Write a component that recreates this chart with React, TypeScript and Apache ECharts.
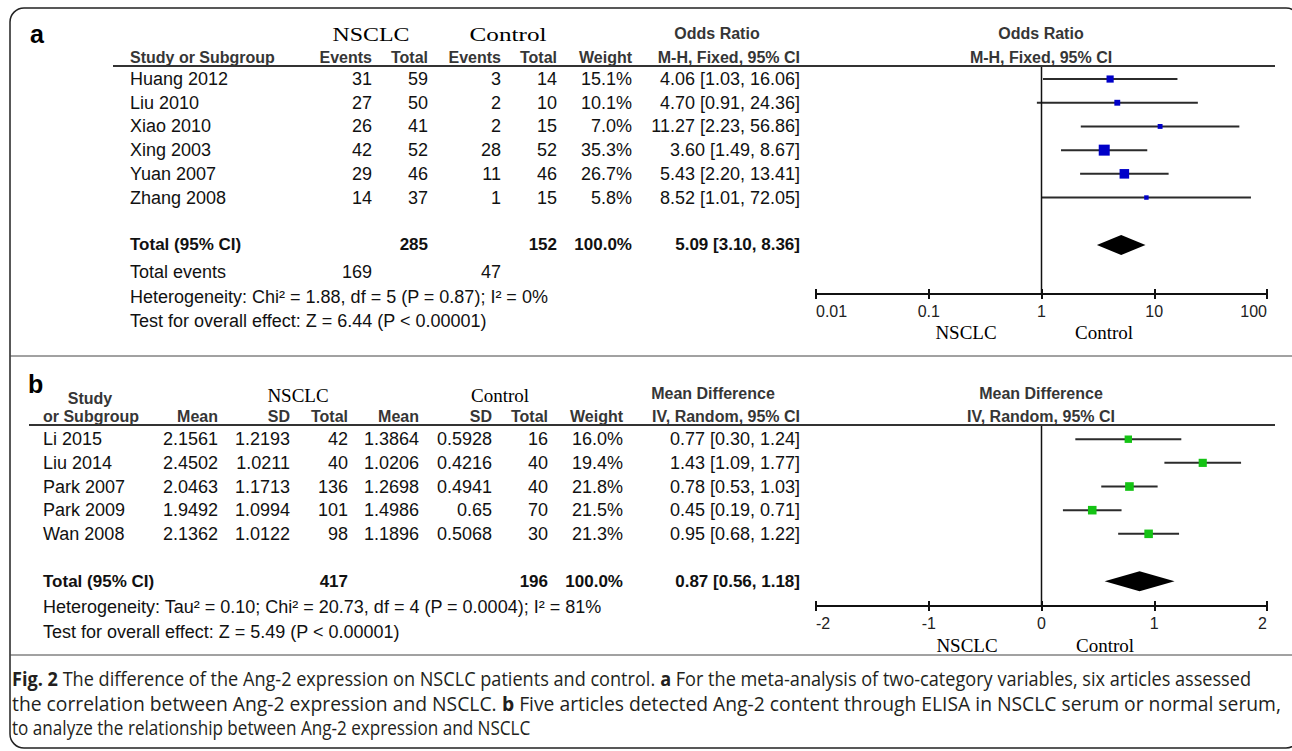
import React, { useEffect, useRef } from 'react';
import * as echarts from 'echarts';

// ---- Panel a: Ang-2 positive cases, NSCLC vs control (odds ratio, M-H fixed) ----
const studiesA = ['Huang 2012', 'Liu 2010', 'Xiao 2010', 'Xing 2003', 'Yuan 2007', 'Zhang 2008'];
const nsclcEventsA = [31, 27, 26, 42, 29, 14];
const nsclcTotalA = [59, 50, 41, 52, 46, 37];
const controlEventsA = [3, 2, 2, 28, 11, 1];
const controlTotalA = [14, 10, 15, 52, 46, 15];
const weightA = [15.1, 10.1, 7.0, 35.3, 26.7, 5.8];
const oddsRatioA = [4.06, 4.7, 11.27, 3.6, 5.43, 8.52];
const ciLowA = [1.03, 0.91, 2.23, 1.49, 2.2, 1.01];
const ciHighA = [16.06, 24.36, 56.86, 8.67, 13.41, 72.05];
const pooledA = [5.09, 3.1, 8.36]; // estimate, lower, upper
const heterogeneityA = 'Heterogeneity: Chi² = 1.88, df = 5 (P = 0.87); I² = 0%';
const overallA = 'Test for overall effect: Z = 6.44 (P < 0.00001)';
const ticksA = [0.01, 0.1, 1, 10, 100];

// ---- Panel b: serum Ang-2 by ELISA (mean difference, IV random) ----
const studiesB = ['Li 2015', 'Liu 2014', 'Park 2007', 'Park 2009', 'Wan 2008'];
const nsclcMeanB = [2.1561, 2.4502, 2.0463, 1.9492, 2.1362];
const nsclcSdB = [1.2193, 1.0211, 1.1713, 1.0994, 1.0122];
const nsclcTotalB = [42, 40, 136, 101, 98];
const controlMeanB = [1.3864, 1.0206, 1.2698, 1.4986, 1.1896];
const controlSdB = [0.5928, 0.4216, 0.4941, 0.65, 0.5068];
const controlTotalB = [16, 40, 40, 70, 30];
const weightB = [16.0, 19.4, 21.8, 21.5, 21.3];
const meanDiffB = [0.77, 1.43, 0.78, 0.45, 0.95];
const ciLowB = [0.3, 1.09, 0.53, 0.19, 0.68];
const ciHighB = [1.24, 1.77, 1.03, 0.71, 1.22];
const pooledB = [0.87, 0.56, 1.18];
const heterogeneityB = 'Heterogeneity: Tau² = 0.10; Chi² = 20.73, df = 4 (P = 0.0004); I² = 81%';
const overallB = 'Test for overall effect: Z = 5.49 (P < 0.00001)';
const ticksB = [-2, -1, 0, 1, 2];

const captionLines: [string, boolean][][] = [
  [
    ['Fig. 2', true],
    [' The difference of the Ang-2 expression on NSCLC patients and control. ', false],
    ['a', true],
    [' For the meta-analysis of two-category variables, six articles assessed', false],
  ],
  [
    ['the correlation between Ang-2 expression and NSCLC. ', false],
    ['b', true],
    [' Five articles detected Ang-2 content through ELISA in NSCLC serum or normal serum,', false],
  ],
  [['to analyze the relationship between Ang-2 expression and NSCLC', false]],
];

// ---- styling ----
const SANS = "'Liberation Sans', Arial, Helvetica, sans-serif";
const SERIF = "'Liberation Serif', 'Times New Roman', serif";
const CAPTION_FONT = "'Open Sans', 'Noto Sans', sans-serif";
const INK = '#111111';
const HEAD = '#363636';
const CI_COLOR = '#2b2b2b';
const BOX_SCALE = 1.85;

// layout
const PLOT_LEFT = 816;
const PLOT_WIDTH = 451;
const A_TOP = 66;
const A_AXIS = 294;
const B_TOP = 425;
const B_AXIS = 606;
const A_YMIN = -0.55;
const A_YMAX = 9.07;
const B_YMIN = -0.6;
const B_YMAX = 7.05;
const rowA = (i: number) => A_TOP + ((i - A_YMIN) / (A_YMAX - A_YMIN)) * (A_AXIS - A_TOP);
const rowB = (i: number) => B_TOP + ((i - B_YMIN) / (B_YMAX - B_YMIN)) * (B_AXIS - B_TOP);
const COL_A = { study: 130, nEv: 372, nTot: 428, cEv: 501, cTot: 557, weight: 632, ci: 800 };
const COL_B = { study: 43, nMean: 218, nSd: 290, nTot: 348, cMean: 419, cSd: 492, cTot: 548, weight: 623, ci: 800 };
const CAPTION_LEFT = 12;
const CAPTION_TOP = 679;
const CAPTION_STEP = 24;
const CAPTION_RIGHTS = [1251, 1281, 531];

let measureCtx: CanvasRenderingContext2D | null = null;
function measure(text: string, size: number, family: string, weight: string = 'normal') {
  if (!measureCtx) measureCtx = document.createElement('canvas').getContext('2d');
  measureCtx!.font = `${weight} ${size}px ${family}`;
  return measureCtx!.measureText(text).width;
}

type TextOpt = {
  align?: 'left' | 'center' | 'right';
  size?: number;
  weight?: string;
  family?: string;
  color?: string;
  scaleX?: number;
};
function label(text: string, x: number, y: number, o: TextOpt = {}) {
  return {
    type: 'text',
    x,
    y,
    scaleX: o.scaleX ?? 1,
    silent: true,
    z: 10,
    style: {
      text,
      fill: o.color ?? INK,
      fontSize: o.size ?? 18,
      fontFamily: o.family ?? SANS,
      fontWeight: o.weight ?? 'normal',
      align: o.align ?? 'left',
      verticalAlign: 'middle',
    },
  };
}
function hline(x1: number, x2: number, y: number, width = 2, color = '#333') {
  return {
    type: 'line',
    silent: true,
    z: 5,
    shape: { x1, y1: y, x2, y2: y },
    style: { stroke: color, lineWidth: width },
  };
}
const sum = (a: number[]) => a.reduce((s, v) => s + v, 0);
const ci = (e: number, l: number, h: number) => `${e.toFixed(2)} [${l.toFixed(2)}, ${h.toFixed(2)}]`;
const pct = (w: number) => `${w.toFixed(1)}%`;

function buildGraphics() {
  const g: any[] = [];
  const head = (t: string, x: number, y: number, align: 'left' | 'center' | 'right' = 'right') =>
    label(t, x, y, { align, size: 16, weight: 'bold', color: HEAD });
  const bold = (t: string, x: number, y: number, align: 'left' | 'right' = 'right') =>
    label(t, x, y, { align, size: 17, weight: 'bold' });

  // outer frame and panel separators
  g.push({
    type: 'rect',
    silent: true,
    z: 1,
    shape: { x: 10, y: 8, width: 1290, height: 740, r: 14 },
    style: { fill: 'none', stroke: '#222', lineWidth: 1.5 },
  });
  g.push(hline(10, 1292, 356, 1, '#444'));
  g.push(hline(10, 1292, 655, 1, '#444'));

  // ---------- panel a ----------
  g.push(label('a', 30, 34, { size: 25, weight: 'bold', color: '#000' }));
  const wideSerif = (t: string) => 77 / measure(t, 19, SERIF);
  g.push(label('NSCLC', 371, 35, { align: 'center', family: SERIF, size: 19, color: '#000', scaleX: wideSerif('NSCLC') }));
  g.push(label('Control', 508, 35, { align: 'center', family: SERIF, size: 19, color: '#000', scaleX: wideSerif('Control') }));
  g.push(head('Odds Ratio', 717, 33, 'center'));
  g.push(head('Odds Ratio', 1041, 33, 'center'));
  const hyA = 57;
  g.push(head('Study or Subgroup', COL_A.study, hyA, 'left'));
  g.push(head('Events', COL_A.nEv, hyA));
  g.push(head('Total', COL_A.nTot, hyA));
  g.push(head('Events', COL_A.cEv, hyA));
  g.push(head('Total', COL_A.cTot, hyA));
  g.push(head('Weight', COL_A.weight, hyA));
  g.push(head('M-H, Fixed, 95% CI', COL_A.ci, hyA));
  g.push(head('M-H, Fixed, 95% CI', 1041, hyA, 'center'));
  g.push(hline(113, 1275, A_TOP));

  studiesA.forEach((s, i) => {
    const y = rowA(i);
    g.push(label(s, COL_A.study, y));
    g.push(label(String(nsclcEventsA[i]), COL_A.nEv, y, { align: 'right' }));
    g.push(label(String(nsclcTotalA[i]), COL_A.nTot, y, { align: 'right' }));
    g.push(label(String(controlEventsA[i]), COL_A.cEv, y, { align: 'right' }));
    g.push(label(String(controlTotalA[i]), COL_A.cTot, y, { align: 'right' }));
    g.push(label(pct(weightA[i]), COL_A.weight, y, { align: 'right' }));
    g.push(label(ci(oddsRatioA[i], ciLowA[i], ciHighA[i]), COL_A.ci, y, { align: 'right' }));
  });
  const totA = rowA(7);
  g.push(bold('Total (95% CI)', COL_A.study, totA, 'left'));
  g.push(bold(String(sum(nsclcTotalA)), COL_A.nTot, totA));
  g.push(bold(String(sum(controlTotalA)), COL_A.cTot, totA));
  g.push(bold(pct(sum(weightA)), COL_A.weight, totA));
  g.push(bold(ci(pooledA[0], pooledA[1], pooledA[2]), COL_A.ci, totA));
  g.push(label('Total events', COL_A.study, 272));
  g.push(label(String(sum(nsclcEventsA)), COL_A.nEv, 272, { align: 'right' }));
  g.push(label(String(sum(controlEventsA)), COL_A.cEv, 272, { align: 'right' }));
  g.push(label(heterogeneityA, COL_A.study, 297));
  g.push(label(overallA, COL_A.study, 321));
  g.push(label('NSCLC', 966, 332, { align: 'center', family: SERIF, size: 19, color: '#000' }));
  g.push(label('Control', 1104, 332, { align: 'center', family: SERIF, size: 19, color: '#000' }));

  // ---------- panel b ----------
  g.push(label('b', 28, 384, { size: 25, weight: 'bold', color: '#000' }));
  g.push(label('NSCLC', 298, 395, { align: 'center', family: SERIF, size: 19, color: '#000' }));
  g.push(label('Control', 500, 395, { align: 'center', family: SERIF, size: 19, color: '#000' }));
  g.push(head('Mean Difference', 713, 393, 'center'));
  g.push(head('Mean Difference', 1041, 393, 'center'));
  g.push(head('Study', 90, 398, 'center'));
  const hyB = 416;
  g.push(head('or Subgroup', COL_B.study, hyB, 'left'));
  g.push(head('Mean', COL_B.nMean, hyB));
  g.push(head('SD', COL_B.nSd, hyB));
  g.push(head('Total', COL_B.nTot, hyB));
  g.push(head('Mean', COL_B.cMean, hyB));
  g.push(head('SD', COL_B.cSd, hyB));
  g.push(head('Total', COL_B.cTot, hyB));
  g.push(head('Weight', COL_B.weight, hyB));
  g.push(head('IV, Random, 95% CI', COL_B.ci, hyB));
  g.push(head('IV, Random, 95% CI', 1041, hyB, 'center'));
  g.push(hline(29, 1275, B_TOP));

  studiesB.forEach((s, i) => {
    const y = rowB(i);
    g.push(label(s, COL_B.study, y));
    g.push(label(String(nsclcMeanB[i]), COL_B.nMean, y, { align: 'right' }));
    g.push(label(String(nsclcSdB[i]), COL_B.nSd, y, { align: 'right' }));
    g.push(label(String(nsclcTotalB[i]), COL_B.nTot, y, { align: 'right' }));
    g.push(label(String(controlMeanB[i]), COL_B.cMean, y, { align: 'right' }));
    g.push(label(String(controlSdB[i]), COL_B.cSd, y, { align: 'right' }));
    g.push(label(String(controlTotalB[i]), COL_B.cTot, y, { align: 'right' }));
    g.push(label(pct(weightB[i]), COL_B.weight, y, { align: 'right' }));
    g.push(label(ci(meanDiffB[i], ciLowB[i], ciHighB[i]), COL_B.ci, y, { align: 'right' }));
  });
  const totB = rowB(6);
  g.push(bold('Total (95% CI)', COL_B.study, totB, 'left'));
  g.push(bold(String(sum(nsclcTotalB)), COL_B.nTot, totB));
  g.push(bold(String(sum(controlTotalB)), COL_B.cTot, totB));
  g.push(bold(pct(sum(weightB)), COL_B.weight, totB));
  g.push(bold(ci(pooledB[0], pooledB[1], pooledB[2]), COL_B.ci, totB));
  g.push(label(heterogeneityB, COL_B.study, 607));
  g.push(label(overallB, COL_B.study, 632));
  g.push(label('NSCLC', 967, 645, { align: 'center', family: SERIF, size: 19, color: '#000' }));
  g.push(label('Control', 1105, 645, { align: 'center', family: SERIF, size: 19, color: '#000' }));

  // ---------- caption: each line fitted to its measured extent ----------
  const capSize = 19.5;
  const lineWidth = (segs: [string, boolean][]) =>
    sum(segs.map(([t, b]) => measure(t, capSize, CAPTION_FONT, b ? 'bold' : 'normal')));
  const tok = (weight: string) => ({ fontSize: capSize, fontFamily: CAPTION_FONT, fontWeight: weight, fill: '#231f20' });
  captionLines.forEach((segs, i) => {
    g.push({
      type: 'text',
      x: CAPTION_LEFT,
      y: CAPTION_TOP + i * CAPTION_STEP,
      scaleX: (CAPTION_RIGHTS[i] - CAPTION_LEFT) / lineWidth(segs),
      silent: true,
      z: 10,
      style: {
        text: segs.map(([t, b]) => `{${b ? 'b' : 'n'}|${t}}`).join(''),
        rich: { b: tok('bold'), n: tok('normal') },
        align: 'left',
        verticalAlign: 'middle',
        fontSize: capSize,
        fontFamily: CAPTION_FONT,
      },
    });
  });
  return g;
}

function studyRenderer(color: string) {
  return (_params: any, api: any) => {
    const row = api.value(4);
    const lo = api.coord([api.value(0), row]);
    const hi = api.coord([api.value(1), row]);
    const c = api.coord([api.value(2), row]);
    const s = BOX_SCALE * Math.sqrt(api.value(3));
    return {
      type: 'group',
      children: [
        { type: 'line', shape: { x1: lo[0], y1: lo[1], x2: hi[0], y2: hi[1] }, style: { stroke: CI_COLOR, lineWidth: 2 } },
        { type: 'rect', shape: { x: c[0] - s / 2, y: c[1] - s / 2, width: s, height: s }, style: { fill: color } },
      ],
    };
  };
}

function diamondRenderer(_params: any, api: any) {
  const row = api.value(3);
  const c = api.coord([api.value(0), row]);
  const lo = api.coord([api.value(1), row]);
  const hi = api.coord([api.value(2), row]);
  return {
    type: 'polygon',
    shape: { points: [lo, [c[0], c[1] - 10], hi, [c[0], c[1] + 10]] },
    style: { fill: '#000' },
  };
}

const axisLabelStyle = {
  fontSize: 16,
  fontFamily: SANS,
  color: '#222',
  margin: 9,
  alignMinLabel: 'left',
  alignMaxLabel: 'right',
};
function mainX(gridIndex: number, extra: any) {
  return {
    gridIndex,
    position: 'bottom',
    ...extra,
    axisLine: { show: true, onZero: false, lineStyle: { color: '#111', width: 2 } },
    axisTick: { show: true, length: 5, lineStyle: { color: '#111', width: 2 } },
    axisLabel: axisLabelStyle,
    splitLine: { show: false },
    minorTick: { show: false },
  };
}
function overlayX(gridIndex: number, extra: any) {
  return {
    gridIndex,
    position: 'bottom',
    ...extra,
    axisLine: { show: false, onZero: false },
    axisTick: { show: true, inside: true, length: 5, lineStyle: { color: '#111', width: 2 } },
    axisLabel: { show: false },
    splitLine: { show: false },
    minorTick: { show: false },
  };
}

function buildOption() {
  const xA = { type: 'log', logBase: 10, min: ticksA[0], max: ticksA[ticksA.length - 1] };
  const xB = { type: 'value', min: ticksB[0], max: ticksB[ticksB.length - 1], interval: 1 };
  return {
    animation: false,
    backgroundColor: '#fff',
    grid: [
      { left: PLOT_LEFT, top: A_TOP, width: PLOT_WIDTH, height: A_AXIS - A_TOP },
      { left: PLOT_LEFT, top: B_TOP, width: PLOT_WIDTH, height: B_AXIS - B_TOP },
    ],
    xAxis: [mainX(0, xA), overlayX(0, xA), mainX(1, xB), overlayX(1, xB)],
    yAxis: [
      { gridIndex: 0, type: 'value', min: A_YMIN, max: A_YMAX, inverse: true, show: false },
      { gridIndex: 1, type: 'value', min: B_YMIN, max: B_YMAX, inverse: true, show: false },
    ],
    series: [
      {
        type: 'line',
        xAxisIndex: 0,
        yAxisIndex: 0,
        data: [[1, A_YMIN], [1, A_YMAX]],
        symbol: 'none',
        lineStyle: { color: '#111', width: 1.5 },
        silent: true,
      },
      {
        type: 'custom',
        xAxisIndex: 0,
        yAxisIndex: 0,
        renderItem: studyRenderer('#0000c8'),
        encode: { x: [0, 1, 2], y: 4 },
        data: studiesA.map((_, i) => [ciLowA[i], ciHighA[i], oddsRatioA[i], weightA[i], i]),
        z: 3,
      },
      {
        type: 'custom',
        xAxisIndex: 0,
        yAxisIndex: 0,
        renderItem: diamondRenderer,
        encode: { x: [0, 1, 2], y: 3 },
        data: [[pooledA[0], pooledA[1], pooledA[2], 7]],
        z: 3,
      },
      {
        type: 'line',
        xAxisIndex: 2,
        yAxisIndex: 1,
        data: [[0, B_YMIN], [0, B_YMAX]],
        symbol: 'none',
        lineStyle: { color: '#111', width: 1.5 },
        silent: true,
      },
      {
        type: 'custom',
        xAxisIndex: 2,
        yAxisIndex: 1,
        renderItem: studyRenderer('#14c314'),
        encode: { x: [0, 1, 2], y: 4 },
        data: studiesB.map((_, i) => [ciLowB[i], ciHighB[i], meanDiffB[i], weightB[i], i]),
        z: 3,
      },
      {
        type: 'custom',
        xAxisIndex: 2,
        yAxisIndex: 1,
        renderItem: diamondRenderer,
        encode: { x: [0, 1, 2], y: 3 },
        data: [[pooledB[0], pooledB[1], pooledB[2], 6]],
        z: 3,
      },
    ],
    graphic: { elements: buildGraphics() },
  };
}

export default function App() {
  const ref = useRef<HTMLDivElement>(null);
  useEffect(() => {
    if (!ref.current) return;
    const chart = echarts.init(ref.current, null, { renderer: 'svg' });
    chart.setOption(buildOption() as any);
    return () => chart.dispose();
  }, []);
  return (
    <div
      ref={ref}
      style={{ position: 'fixed', left: 0, top: 0, width: 1292, height: 751, background: '#fff' }}
    />
  );
}
